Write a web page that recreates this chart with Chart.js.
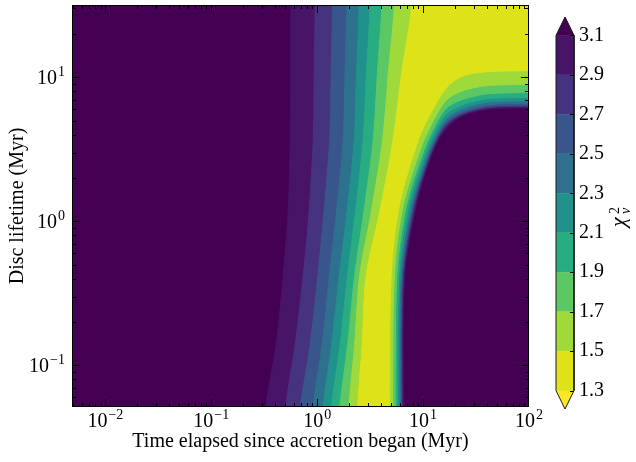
<!DOCTYPE html>
<html>
<head>
<meta charset="utf-8">
<title>Reduced chi-square map</title>
<script src="https://cdn.jsdelivr.net/npm/chart.js"></script>
<style>
  body { margin: 0; background: #fff; }
  #wrap { position: relative; width: 636px; height: 462px; }
  canvas { position: absolute; top: 0; }
  #mapChart { left: 0; }
  #barChart { left: 540px; }
</style>
</head>
<body>
<div id="wrap">
  <canvas id="mapChart" width="636" height="462"></canvas>
  <canvas id="barChart" width="96" height="462"></canvas>
</div>
<script>
// contour levels of reduced chi-square and the colour of each band (1.3-1.5 first)
const levels = [1.3, 1.5, 1.7, 1.9, 2.1, 2.3, 2.5, 2.7, 2.9, 3.1];
const bandColors = ['#dde318', '#9fda3a', '#5cc863', '#27ad81', '#21918c', '#2d718e', '#39568c', '#46337f', '#481467'];
const underColor = '#fde725';
const overColor = '#440154';

// left edge of each "chi2 < level" region: time (Myr) at these disc lifetimes (Myr)
const leftY = [0.054, 0.14, 0.42, 1.2, 3.7, 11.3, 32];
const left15 = [2.421, 2.658, 2.900, 3.929, 5.212, 6.337, 7.825];
const left17 = [2.004, 2.258, 2.518, 3.268, 4.149, 4.727, 5.361];
const left19 = [1.648, 1.941, 2.258, 2.776, 3.376, 3.722, 4.077];
const left21 = [1.376, 1.648, 1.932, 2.308, 2.716, 2.931, 3.162];
const left23 = [1.147, 1.370, 1.613, 1.919, 2.234, 2.359, 2.490];
const left25 = [0.923, 1.115, 1.306, 1.528, 1.759, 1.837, 1.906];
const left27 = [0.702, 0.859, 1.015, 1.164, 1.312, 1.356, 1.394];
const left29 = [0.507, 0.620, 0.738, 0.840, 0.917, 0.937, 0.957];
const left31 = [0.330, 0.410, 0.478, 0.533, 0.556, 0.562, 0.565];

// right edge: flat along the top right, bends down and drops to the bottom
const rightXTop = [200, 42.9, 23.3, 16.5];
const rightYBottom = [1.27, 0.416, 0.04];
const rightY15 = [11.09, 10.95, 10.16, 8.39, 5.86, 3.69];
const rightX15 = [12.16, 9.03, 5.94, 4.99, 4.78];
const rightY17 = [8.89, 8.78, 8.03, 6.91, 5.03, 3.28];
const rightX17 = [12.57, 9.62, 6.46, 5.34, 5.13];
const rightY19 = [7.80, 7.70, 6.98, 6.07, 4.54, 3.03];
const rightX19 = [12.84, 10.04, 6.93, 5.65, 5.44];
const rightY21 = [7.21, 7.12, 6.42, 5.55, 4.23, 2.86];
const rightX21 = [13.03, 10.33, 7.30, 5.89, 5.68];
const rightY23 = [6.83, 6.75, 6.06, 5.17, 4.00, 2.74];
const rightX23 = [13.19, 10.58, 7.64, 6.09, 5.90];
const rightY25 = [6.56, 6.48, 5.80, 4.94, 3.86, 2.67];
const rightX25 = [13.29, 10.74, 7.89, 6.26, 6.07];
const rightY27 = [6.38, 6.30, 5.63, 4.76, 3.74, 2.60];
const rightX27 = [13.38, 10.86, 8.10, 6.38, 6.20];
const rightY29 = [6.25, 6.17, 5.51, 4.59, 3.64, 2.54];
const rightX29 = [13.47, 11.00, 8.31, 6.52, 6.34];
const rightY31 = [6.10, 6.03, 5.37, 4.40, 3.52, 2.48];
const rightX31 = [13.55, 11.15, 8.59, 6.69, 6.52];

// axes
const xMin = 0.00484, xMax = 100;
const yMin = 0.0515, yMax = 31.7;
const xDecades = [0.01, 0.1, 1, 10, 100];
const xExponents = ['\u22122', '\u22121', '0', '1', '2'];
const yDecades = [0.1, 1, 10];
const yExponents = ['\u22121', '0', '1'];
const minorSteps = [2, 3, 4, 5, 6, 7, 8, 9];
const cbMin = 1.2066, cbMax = 3.1934;

const FONT = '"Liberation Serif", "DejaVu Serif", serif';

// closed outline of one region; the extra corners lie outside the axes and are clipped
function regionPoints(left, rY, rX) {
  const pts = [{ x: left[0], y: 0.04 }];
  left.forEach((x, i) => pts.push({ x, y: leftY[i] }));
  pts.push({ x: left[left.length - 1], y: 100 });
  pts.push({ x: 500, y: 100 });
  pts.push({ x: 500, y: rY[0] });
  rightXTop.forEach((x, i) => pts.push({ x, y: rY[i] }));
  pts.push({ x: rX[0], y: rY[4] });
  pts.push({ x: rX[1], y: rY[5] });
  rightYBottom.forEach((y, i) => pts.push({ x: rX[i + 2], y }));
  return pts;
}

const regions = [
  [left15, rightY15, rightX15],
  [left17, rightY17, rightX17],
  [left19, rightY19, rightX19],
  [left21, rightY21, rightX21],
  [left23, rightY23, rightX23],
  [left25, rightY25, rightX25],
  [left27, rightY27, rightX27],
  [left29, rightY29, rightX29],
  [left31, rightY31, rightX31]
];

// first dataset is drawn on top, so the lowest level goes first
const mapDatasets = regions.map((r, i) => ({
  data: regionPoints(r[0], r[1], r[2]),
  showLine: true,
  fill: 'shape',
  backgroundColor: bandColors[i],
  borderColor: bandColors[i],
  borderWidth: 1,
  pointRadius: 0,
  pointHoverRadius: 0,
  tension: 0.3,
  capBezierPoints: false
}));

function tickList(decades) {
  const list = [];
  decades.forEach((d) => {
    list.push({ v: d, major: true });
    minorSteps.forEach((m) => list.push({ v: m * d, major: false }));
    minorSteps.forEach((m) => list.push({ v: m * d / 10, major: false }));
  });
  return list;
}

function drawPower(ctx, exp, x, baseline, align) {
  ctx.font = '20px ' + FONT;
  const w1 = ctx.measureText('10').width;
  ctx.font = '14px ' + FONT;
  const w2 = ctx.measureText(exp).width;
  const total = w1 + w2 + 1;
  const start = align === 'center' ? x - total / 2 : x - total;
  ctx.textAlign = 'left';
  ctx.textBaseline = 'alphabetic';
  ctx.font = '20px ' + FONT;
  ctx.fillText('10', start, baseline);
  ctx.font = '14px ' + FONT;
  ctx.fillText(exp, start + w1 + 1, baseline - 8);
}

const mapFrame = {
  id: 'mapFrame',
  beforeDatasetsDraw(chart) {
    const { ctx, chartArea: a } = chart;
    ctx.save();
    ctx.fillStyle = overColor;
    ctx.fillRect(a.left, a.top, a.right - a.left, a.bottom - a.top);
    ctx.restore();
  },
  afterDraw(chart) {
    const { ctx, chartArea: a, scales: { x, y } } = chart;
    ctx.save();
    ctx.strokeStyle = '#000';
    ctx.lineWidth = 1;
    ctx.beginPath();
    tickList(xDecades).forEach((t) => {
      if (t.v < xMin || t.v > xMax) return;
      const px = Math.round(x.getPixelForValue(t.v)) + 0.5;
      if (px <= a.left + 1 || px >= a.right - 1) return;
      const len = t.major ? 8 : 4;
      ctx.moveTo(px, a.bottom); ctx.lineTo(px, a.bottom - len);
      ctx.moveTo(px, a.top); ctx.lineTo(px, a.top + len);
    });
    tickList(yDecades.concat([0.01])).forEach((t) => {
      if (t.v < yMin || t.v > yMax) return;
      const py = Math.round(y.getPixelForValue(t.v)) + 0.5;
      if (py <= a.top + 1 || py >= a.bottom - 1) return;
      const len = t.major ? 8 : 4;
      ctx.moveTo(a.left, py); ctx.lineTo(a.left + len, py);
      ctx.moveTo(a.right, py); ctx.lineTo(a.right - len, py);
    });
    ctx.stroke();
    ctx.strokeRect(Math.round(a.left) + 0.5, Math.round(a.top) + 0.5,
      Math.round(a.right - a.left) - 1, Math.round(a.bottom - a.top) - 1);
    ctx.fillStyle = '#000';
    xDecades.forEach((d, i) => drawPower(ctx, xExponents[i], x.getPixelForValue(d), a.bottom + 20, 'center'));
    yDecades.forEach((d, i) => drawPower(ctx, yExponents[i], a.left - 7, y.getPixelForValue(d) + 7, 'right'));
    ctx.restore();
  }
};

new Chart(document.getElementById('mapChart'), {
  type: 'scatter',
  data: { datasets: mapDatasets },
  options: {
    responsive: false,
    animation: false,
    events: [],
    layout: { padding: { top: 5, right: 107, left: 0, bottom: 0 } },
    plugins: { legend: { display: false }, tooltip: { enabled: false } },
    scales: {
      x: {
        type: 'logarithmic',
        min: xMin,
        max: xMax,
        grid: { display: false, drawTicks: false },
        border: { display: false },
        ticks: { display: false },
        title: {
          display: true,
          text: 'Time elapsed since accretion began (Myr)',
          color: '#000',
          font: { family: FONT, size: 20 },
          padding: { top: 0, bottom: 8 }
        },
        afterFit: (s) => { s.height = 55; }
      },
      y: {
        type: 'logarithmic',
        min: yMin,
        max: yMax,
        grid: { display: false, drawTicks: false },
        border: { display: false },
        ticks: { display: false },
        title: {
          display: true,
          text: 'Disc lifetime (Myr)',
          color: '#000',
          font: { family: FONT, size: 20 },
          padding: { top: 6, bottom: 0 }
        },
        afterFit: (s) => { s.width = 72; }
      }
    }
  },
  plugins: [mapFrame]
});

// colour bar
const barDatasets = bandColors.map((c, i) => ({
  data: [{ x: 0, y: levels[i] }, { x: 1, y: levels[i] }, { x: 1, y: levels[i + 1] }, { x: 0, y: levels[i + 1] }],
  backgroundColor: c,
  borderColor: c,
  borderWidth: 0.5
}));
barDatasets.push({
  data: [{ x: 0, y: levels[levels.length - 1] }, { x: 1, y: levels[levels.length - 1] }, { x: 0.5, y: cbMax }],
  backgroundColor: overColor, borderColor: overColor, borderWidth: 0.5
});
barDatasets.push({
  data: [{ x: 0, y: levels[0] }, { x: 1, y: levels[0] }, { x: 0.5, y: cbMin }],
  backgroundColor: underColor, borderColor: underColor, borderWidth: 0.5
});
barDatasets.forEach((d) => Object.assign(d, { showLine: true, fill: 'shape', pointRadius: 0, clip: false }));
barDatasets.unshift({
  data: [{ x: 0, y: levels[0] }, { x: 0, y: levels[levels.length - 1] }, { x: 0.5, y: cbMax },
    { x: 1, y: levels[levels.length - 1] }, { x: 1, y: levels[0] }, { x: 0.5, y: cbMin }, { x: 0, y: levels[0] }],
  showLine: true, fill: false, borderColor: '#1a1a1a', borderWidth: 1, pointRadius: 0, clip: false
});

const barExtras = {
  id: 'barExtras',
  afterDraw(chart) {
    const { ctx, chartArea: a, scales: { y } } = chart;
    ctx.save();
    ctx.strokeStyle = '#000';
    ctx.lineWidth = 1;
    ctx.beginPath();
    levels.forEach((v) => {
      const py = Math.round(y.getPixelForValue(v)) + 0.5;
      ctx.moveTo(a.right, py); ctx.lineTo(a.right - 4, py);
    });
    ctx.stroke();
    // colour bar label, rotated to read upwards
    ctx.translate(82, 221);
    ctx.rotate(-Math.PI / 2);
    ctx.fillStyle = '#000';
    ctx.textAlign = 'left';
    ctx.textBaseline = 'alphabetic';
    ctx.font = 'italic 22px ' + FONT;
    ctx.fillText('\u03c7', -6, 3);
    ctx.font = '14px ' + FONT;
    ctx.fillText('2', 7, -3);
    ctx.font = 'italic 14px ' + FONT;
    ctx.fillText('\u03bd', 7, 8);
    ctx.restore();
  }
};

new Chart(document.getElementById('barChart'), {
  type: 'scatter',
  data: { datasets: barDatasets },
  options: {
    responsive: false,
    animation: false,
    events: [],
    layout: { padding: { top: 5, right: 0, left: 16, bottom: 53 } },
    plugins: { legend: { display: false }, tooltip: { enabled: false } },
    scales: {
      x: { type: 'linear', min: 0, max: 1, display: false },
      y: {
        type: 'linear',
        position: 'right',
        min: cbMin,
        max: cbMax,
        grid: { display: false, drawTicks: false },
        border: { display: false },
        afterBuildTicks: (s) => { s.ticks = levels.map((v) => ({ value: v })); },
        ticks: {
          color: '#000',
          padding: 5,
          font: { family: FONT, size: 20 },
          callback: (v) => Number(v).toFixed(1)
        },
        afterFit: (s) => { s.width = 62; }
      }
    }
  },
  plugins: [barExtras]
});
</script>
</body>
</html>
